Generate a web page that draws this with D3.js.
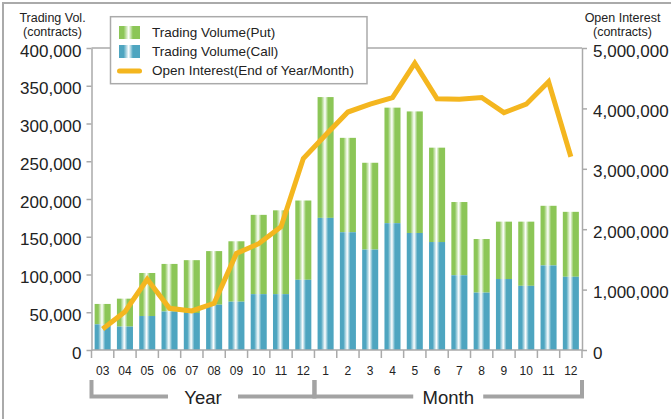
<!DOCTYPE html>
<html>
<head>
<meta charset="utf-8">
<script src="https://cdn.jsdelivr.net/npm/d3@7/dist/d3.min.js"></script>
<style>
  body { margin: 0; background: #fff; }
  svg { display: block; font-family: "Liberation Sans", Arial, sans-serif; }
</style>
</head>
<body>
<svg id="chart" width="671" height="419"></svg>
<script>
'use strict';

// categories: 10 years then 12 months
var categories = ['03', '04', '05', '06', '07', '08', '09', '10', '11', '12',
                  '1', '2', '3', '4', '5', '6', '7', '8', '9', '10', '11', '12'];
var callVolume = [34000, 31000, 45000, 51000, 49000, 60000, 64000, 74000, 74000, 93000,
                  175000, 156000, 133000, 168000, 155000, 143000, 99000, 76000, 94000, 85000, 112000, 97000];
var putVolume = [27000, 37000, 57000, 63000, 70000, 71000, 80000, 105000, 111000, 105000,
                 160000, 125000, 115000, 153000, 161000, 125000, 97000, 71000, 76000, 85000, 79000, 86000];
var openInterest = [348000, 634000, 1170000, 690000, 646000, 773000, 1600000, 1760000, 2040000, 3170000,
                    3560000, 3940000, 4070000, 4180000, 4750000, 4160000, 4150000, 4180000, 3930000, 4070000, 4440000, 3200000];
var leftTicks = [0, 50000, 100000, 150000, 200000, 250000, 300000, 350000, 400000];
var rightTicks = [0, 1000000, 2000000, 3000000, 4000000, 5000000];
var groups = [{label: 'Year', from: 0, to: 10}, {label: 'Month', from: 10, to: 22}];

var GREEN = '#8cc657', BLUE = '#4ea5c0', ORANGE = '#f4b61f', GREY = '#aaaaaa';

var svg = d3.select('#chart');
var plotL = 91.5, plotR = 582, plotT = 48, plotB = 350;

var x = d3.scaleBand().domain(d3.range(categories.length)).range([plotL, plotR])
  .paddingInner(0.28).paddingOuter(0.14);
var yLeft = d3.scaleLinear().domain([0, 400000]).range([plotB, plotT]);
var yRight = d3.scaleLinear().domain([0, 5000000]).range([plotB, plotT]);
var fmt = d3.format(',');

// outer frame (cut by the picture edge on right/bottom)
svg.append('rect').attr('x', 3).attr('y', 3).attr('width', 700).attr('height', 450)
  .attr('fill', 'none').attr('stroke', GREY).attr('stroke-width', 2);

// gradients for the bars
var defs = svg.append('defs');
function stripe(id, color) {
  var g = defs.append('linearGradient').attr('id', id)
    .attr('x1', '0%').attr('x2', '100%').attr('y1', '0%').attr('y2', '0%');
  [[0, color], [0.22, color], [0.46, '#ffffff'], [0.66, color], [1, color]].forEach(function(s) {
    g.append('stop').attr('offset', s[0]).attr('stop-color', s[1]);
  });
}
stripe('gPut', GREEN);
stripe('gCall', BLUE);

// top frame line
svg.append('line').attr('x1', plotL).attr('x2', plotR).attr('y1', plotT).attr('y2', plotT)
  .attr('stroke', GREY).attr('stroke-width', 1.5);

// bars
var idx = d3.range(categories.length);
svg.append('g').selectAll('rect').data(idx).join('rect')
  .attr('x', function(i) { return x(i); })
  .attr('width', x.bandwidth())
  .attr('y', function(i) { return yLeft(callVolume[i] + putVolume[i]); })
  .attr('height', function(i) { return yLeft(callVolume[i]) - yLeft(callVolume[i] + putVolume[i]); })
  .attr('fill', 'url(#gPut)');
svg.append('g').selectAll('rect').data(idx).join('rect')
  .attr('x', function(i) { return x(i); })
  .attr('width', x.bandwidth())
  .attr('y', function(i) { return yLeft(callVolume[i]); })
  .attr('height', function(i) { return plotB - yLeft(callVolume[i]); })
  .attr('fill', 'url(#gCall)');

// axes
function styleAxis(g) {
  g.select('.domain').attr('stroke', GREY).attr('stroke-width', 1.5);
  g.selectAll('.tick line').attr('stroke', GREY).attr('stroke-width', 1.5);
  g.selectAll('.tick text').attr('fill', '#222').attr('font-size', 17)
    .attr('font-family', '"Liberation Sans", Arial, sans-serif').attr('dy', '0.48em');
}
svg.append('g').attr('transform', 'translate(' + plotL + ',0)')
  .call(d3.axisLeft(yLeft).tickValues(leftTicks).tickFormat(fmt).tickSize(5).tickPadding(5).tickSizeOuter(0))
  .call(styleAxis);
svg.append('g').attr('transform', 'translate(' + plotR + ',0)')
  .call(d3.axisRight(yRight).tickValues(rightTicks).tickFormat(fmt).tickSize(5).tickPadding(6).tickSizeOuter(0))
  .call(styleAxis);

// x axis line with ticks at band boundaries
var xa = svg.append('g');
xa.append('line').attr('x1', plotL).attr('x2', plotR).attr('y1', plotB).attr('y2', plotB)
  .attr('stroke', GREY).attr('stroke-width', 1.5);
xa.selectAll('line.tk').data(d3.range(categories.length + 1)).join('line').attr('class', 'tk')
  .attr('x1', function(i) { return plotL + i * x.step(); })
  .attr('x2', function(i) { return plotL + i * x.step(); })
  .attr('y1', plotB).attr('y2', plotB + 8)
  .attr('stroke', GREY).attr('stroke-width', 1.5);
xa.selectAll('text').data(idx).join('text')
  .attr('x', function(i) { return x(i) + x.bandwidth() / 2; })
  .attr('y', 375).attr('text-anchor', 'middle').attr('font-size', 12).attr('fill', '#222')
  .text(function(i) { return categories[i]; });

// group brackets
var by = 396.5, gap = 35;
groups.forEach(function(gr) {
  var x0 = plotL + gr.from * x.step(), x1 = plotL + gr.to * x.step(), mid = (x0 + x1) / 2;
  svg.append('path')
    .attr('d', 'M' + x0 + ',380V' + by + 'H' + (mid - gap) + 'M' + (mid + gap) + ',' + by + 'H' + x1 + 'V380')
    .attr('fill', 'none').attr('stroke', '#a3a3a3').attr('stroke-width', 4);
  svg.append('text').attr('x', mid).attr('y', 403.5).attr('text-anchor', 'middle')
    .attr('font-size', 18.5).attr('fill', '#222').text(gr.label);
});

// open interest line
var line = d3.line()
  .x(function(d, i) { return x(i) + x.bandwidth() / 2; })
  .y(function(d) { return yRight(d); });
svg.append('path').datum(openInterest).attr('d', line)
  .attr('fill', 'none').attr('stroke', ORANGE).attr('stroke-width', 5)
  .attr('stroke-linejoin', 'miter');

// axis titles
[['Trading Vol.', '(contracts)', 52.5], ['Open Interest', '(contracts)', 622.5]].forEach(function(t) {
  var tx = svg.append('text').attr('text-anchor', 'middle').attr('font-size', 12.5).attr('fill', '#222');
  tx.append('tspan').attr('x', t[2]).attr('y', 21.5).text(t[0]);
  tx.append('tspan').attr('x', t[2]).attr('y', 35.5).text(t[1]);
});

// legend
var lg = svg.append('g');
lg.append('rect').attr('x', 110.5).attr('y', 16.7).attr('width', 256.5).attr('height', 67)
  .attr('fill', '#fff').attr('stroke', GREY).attr('stroke-width', 1.5);
lg.append('rect').attr('x', 119).attr('y', 26).attr('width', 21).attr('height', 13).attr('fill', 'url(#gPut)');
lg.append('rect').attr('x', 119).attr('y', 45).attr('width', 21).attr('height', 13).attr('fill', 'url(#gCall)');
lg.append('line').attr('x1', 119.5).attr('x2', 139.5).attr('y1', 71).attr('y2', 71)
  .attr('stroke', ORANGE).attr('stroke-width', 5).attr('stroke-linecap', 'round');
['Trading Volume(Put)', 'Trading Volume(Call)', 'Open Interest(End of Year/Month)'].forEach(function(s, i) {
  lg.append('text').attr('x', 152).attr('y', 36.5 + i * 19).attr('font-size', 13.5).attr('fill', '#222').text(s);
});
</script>
</body>
</html>
